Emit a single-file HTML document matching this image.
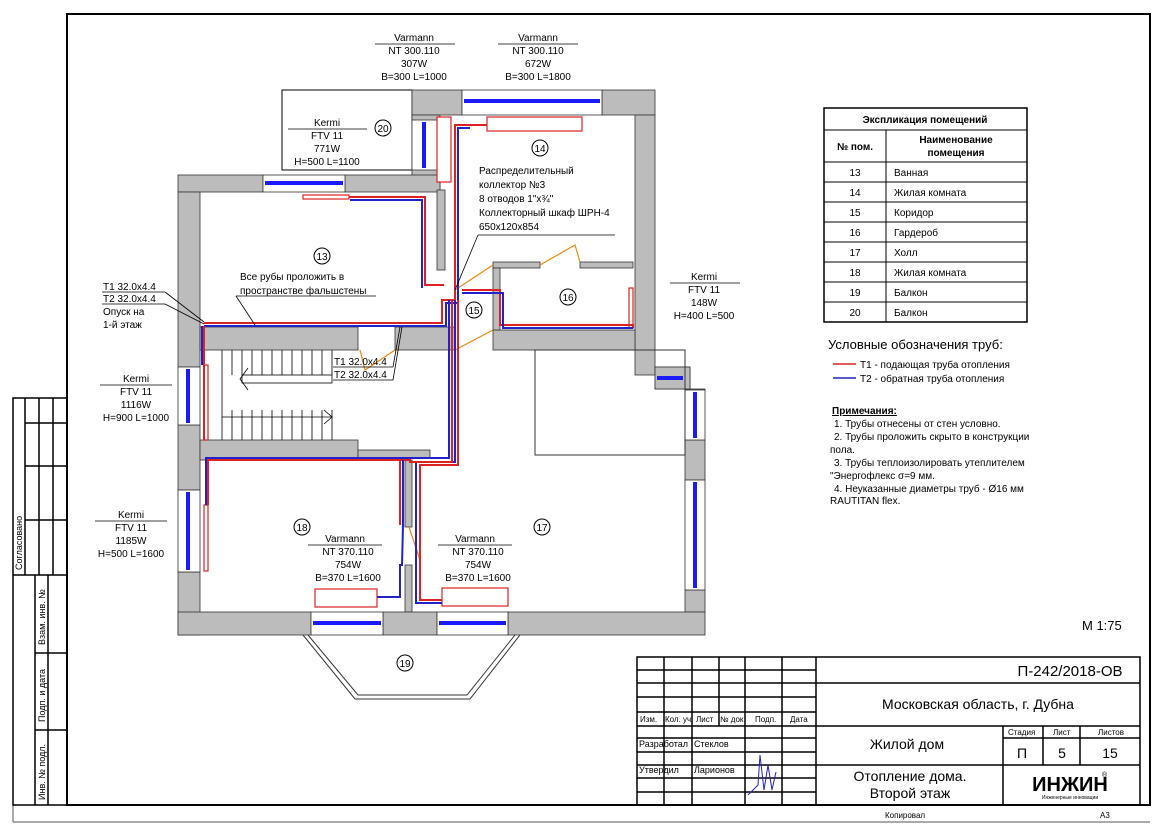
<!DOCTYPE html>
<html><head><meta charset="utf-8"><style>
html,body{margin:0;padding:0;background:#fff}
svg{display:block}
text{font-family:"Liberation Sans","DejaVu Sans",sans-serif;fill:#000}
</style></head><body>
<svg width="1166" height="829" viewBox="0 0 1166 829" xmlns="http://www.w3.org/2000/svg">
<!-- frames -->
<rect x="67" y="14" width="1083" height="791" fill="none" stroke="#000" stroke-width="2"/>
<line x1="13" y1="822" x2="1150" y2="822" stroke="#555" stroke-width="1"/>
<line x1="13" y1="398" x2="13" y2="822" stroke="#555" stroke-width="1"/>
<g stroke="#000" stroke-width="1.5" fill="none">
<rect x="13" y="398" width="54" height="407"/>
<line x1="25" y1="398" x2="25" y2="575"/><line x1="39" y1="398" x2="39" y2="575"/><line x1="53" y1="398" x2="53" y2="575"/>
<line x1="25" y1="423" x2="67" y2="423"/><line x1="25" y1="466" x2="67" y2="466"/><line x1="25" y1="520" x2="67" y2="520"/>
<line x1="13" y1="575" x2="67" y2="575"/>
<line x1="35" y1="575" x2="35" y2="805"/><line x1="48" y1="575" x2="48" y2="805"/>
<line x1="35" y1="653" x2="67" y2="653"/><line x1="35" y1="730" x2="67" y2="730"/>
</g>
<g font-size="9">
<text transform="translate(22,570) rotate(-90)">Согласовано</text>
<text transform="translate(45,645) rotate(-90)">Взам. инв. №</text>
<text transform="translate(45,722) rotate(-90)">Подп. и дата</text>
<text transform="translate(45,800) rotate(-90)">Инв. № подл.</text>
</g>

<!-- balcony 20 -->
<rect x="282" y="90" width="130" height="80" fill="#fff" stroke="#000"/>
<!-- walls -->
<g fill="#bcbcbc" stroke="#333" stroke-width="0.8">
<rect x="412" y="90" width="50" height="25"/>
<rect x="602" y="90" width="53" height="25"/>
<rect x="412" y="115" width="28" height="75"/>
<rect x="635" y="115" width="20" height="260"/>
<rect x="178" y="175" width="85" height="17"/>
<rect x="345" y="175" width="95" height="17"/>
<rect x="178" y="192" width="22" height="175"/>
<rect x="178" y="425" width="22" height="65"/>
<rect x="178" y="572" width="22" height="63"/>
<rect x="437" y="190" width="8" height="80"/>
<rect x="200" y="327" width="158" height="23"/>
<rect x="395" y="327" width="60" height="23"/>
<rect x="493" y="330" width="142" height="20"/>
<rect x="493" y="262" width="47" height="6"/>
<rect x="580" y="262" width="53" height="6"/>
<rect x="493" y="268" width="7" height="62"/>
<rect x="655" y="367" width="35" height="22"/>
<rect x="685" y="389" width="20" height="1"/>
<rect x="685" y="440" width="20" height="40"/>
<rect x="685" y="590" width="20" height="22"/>
<rect x="200" y="440" width="158" height="20"/>
<rect x="358" y="450" width="72" height="8"/>
<rect x="405" y="460" width="7" height="67"/>
<rect x="405" y="565" width="7" height="47"/>
<rect x="178" y="612" width="133" height="23"/>
<rect x="383" y="612" width="54" height="23"/>
<rect x="508" y="612" width="197" height="23"/>
</g>
<!-- windows -->
<g fill="#fff" stroke="#333" stroke-width="0.8">
<rect x="462" y="90" width="140" height="25"/><rect x="263" y="175" width="82" height="17"/>
<rect x="412" y="120" width="28" height="50"/>
<rect x="178" y="367" width="22" height="58"/><rect x="178" y="490" width="22" height="82"/>
<rect x="685" y="390" width="20" height="50"/><rect x="685" y="480" width="20" height="110"/>
<rect x="655" y="367" width="35" height="22" fill="#bcbcbc"/>
<rect x="311" y="612" width="72" height="23"/><rect x="437" y="612" width="71" height="23"/>
</g>
<g stroke="#1a1aff" stroke-width="4">
<line x1="464" y1="101" x2="600" y2="101"/><line x1="265" y1="183" x2="343" y2="183"/>
<line x1="424" y1="122" x2="424" y2="168"/>
<line x1="188" y1="369" x2="188" y2="423"/><line x1="188" y1="492" x2="188" y2="570"/>
<line x1="695" y1="392" x2="695" y2="438"/><line x1="695" y1="482" x2="695" y2="588"/>
<line x1="657" y1="378" x2="683" y2="378"/>
<line x1="313" y1="623" x2="381" y2="623"/><line x1="439" y1="623" x2="506" y2="623"/>
</g>
<!-- inner lines -->
<g stroke="#333" fill="none" stroke-width="1">
<rect x="535" y="350" width="150" height="105"/>
<path d="M303 635 L355 699 L470 699 L520 635"/><path d="M308 635 L358 695 L467 695 L515 635"/>
</g>
<!-- stairs -->
<g stroke="#000" stroke-width="0.8" fill="none">
<line x1="222" y1="350" x2="222" y2="440"/>
<path d="M232 350V375M242 350V375M252 350V375M262 350V375M272 350V375M282 350V375M292 350V375M302 350V375M312 350V375M322 350V375M332 350V375"/>
<path d="M232 410V440M242 410V440M252 410V440M262 410V440M272 410V440M282 410V440M292 410V440M302 410V440M312 410V440M322 410V440M332 410V440"/>
<rect x="242" y="375" width="90" height="8"/>
<line x1="222" y1="417" x2="332" y2="417"/><path d="M324 410 L332 417 L324 424"/>
<path d="M248 368 L240 379 L248 390"/>
</g>
<!-- doors -->
<g stroke="#e88a10" stroke-width="1.2" fill="none">
<path d="M455 290 L493 265"/><path d="M540 265 L575 245 L580 262"/>
<path d="M360 350 L365 370 L395 350"/><path d="M455 350 L493 330"/>
<path d="M409 527 L420 560"/>
</g>
<!-- radiators -->
<g fill="#fff" stroke="#d22" stroke-width="1.2">
<rect x="487" y="117" width="95" height="14"/><rect x="437" y="117" width="14" height="65"/>
<rect x="303" y="195" width="46" height="4"/>
<rect x="204" y="365" width="4" height="75"/><rect x="204" y="505" width="4" height="66"/>
<rect x="629" y="288" width="4" height="40"/>
<rect x="315" y="589" width="62" height="18"/><rect x="442" y="588" width="66" height="18"/>
</g>
<!-- pipes -->
<g fill="none" stroke-width="2">
<path d="M204 323 H442 V300 H455 V125 H487" stroke="#d22"/>
<path d="M204 326 H446 V303 H458 V128 H470" stroke="#22c"/>
<path d="M349 197 H425 V285 H444" stroke="#d22"/>
<path d="M350 200 H422 V288" stroke="#22c"/>
<path d="M204 326 V440" stroke="#d22"/>
<path d="M202 326 V365" stroke="#22c"/>
<path d="M462 290 H500 V325 H633 V328" stroke="#d22"/>
<path d="M462 293 H503 V328 H633" stroke="#22c"/>
<path d="M458 300 V465 H420 V600 H442" stroke="#d22"/>
<path d="M455 300 V462 H416 V603 H442" stroke="#22c"/>
<path d="M452 300 V462 H410 V460 H208 V505" stroke="#d22"/>
<path d="M449 300 V458 H206 V505" stroke="#22c"/>
<path d="M403 460 V525 L402 565 H400 V597 H377" stroke="#22c"/>
<path d="M400 460 V525" stroke="#d22"/>
</g>
<!-- leaders -->
<g stroke="#000" stroke-width="0.8" fill="none">
<line x1="478" y1="235" x2="615" y2="235"/><line x1="478" y1="235" x2="455" y2="290"/>
<line x1="236" y1="296" x2="376" y2="296"/><line x1="236" y1="296" x2="255" y2="325"/>
<line x1="102" y1="292" x2="165" y2="292"/><line x1="102" y1="304" x2="165" y2="304"/>
<line x1="165" y1="292" x2="204" y2="322"/><line x1="165" y1="304" x2="204" y2="324"/>
<line x1="333" y1="367" x2="393" y2="367"/><line x1="333" y1="380" x2="393" y2="380"/>
<line x1="393" y1="367" x2="400" y2="327"/><line x1="393" y1="380" x2="402" y2="327"/>
<line x1="375" y1="44" x2="455" y2="44"/><line x1="498" y1="44" x2="578" y2="44"/>
<line x1="288" y1="129" x2="367" y2="129"/><line x1="670" y1="283" x2="740" y2="283"/>
<line x1="100" y1="385" x2="172" y2="385"/><line x1="95" y1="521" x2="167" y2="521"/>
<line x1="308" y1="545" x2="382" y2="545"/><line x1="438" y1="545" x2="512" y2="545"/>
</g>
<!-- circles -->
<g fill="none" stroke="#000" stroke-width="1">
<circle cx="383" cy="128" r="8"/><circle cx="540" cy="148" r="8"/><circle cx="322" cy="256" r="8"/>
<circle cx="474" cy="310" r="8"/><circle cx="568" cy="297" r="8"/><circle cx="542" cy="527" r="8"/>
<circle cx="302" cy="527" r="8"/><circle cx="405" cy="663" r="8"/>
</g>
<g font-size="10" text-anchor="middle">
<text x="383" y="132">20</text><text x="540" y="152">14</text><text x="322" y="260">13</text>
<text x="474" y="314">15</text><text x="568" y="301">16</text><text x="542" y="531">17</text>
<text x="302" y="531">18</text><text x="405" y="667">19</text>
</g>
<g font-size="10" text-anchor="middle">
<text x="414" y="41">Varmann</text><text x="414" y="54">NT 300.110</text><text x="414" y="67">307W</text><text x="414" y="80">B=300 L=1000</text>
<text x="538" y="41">Varmann</text><text x="538" y="54">NT 300.110</text><text x="538" y="67">672W</text><text x="538" y="80">B=300 L=1800</text>
<text x="327" y="126">Kermi</text><text x="327" y="139">FTV 11</text><text x="327" y="152">771W</text><text x="327" y="165">H=500 L=1100</text>
<text x="704" y="280">Kermi</text><text x="704" y="293">FTV 11</text><text x="704" y="306">148W</text><text x="704" y="319">H=400 L=500</text>
<text x="136" y="382">Kermi</text><text x="136" y="395">FTV 11</text><text x="136" y="408">1116W</text><text x="136" y="421">H=900 L=1000</text>
<text x="131" y="518">Kermi</text><text x="131" y="531">FTV 11</text><text x="131" y="544">1185W</text><text x="131" y="557">H=500 L=1600</text>
<text x="345" y="542">Varmann</text><text x="348" y="555">NT 370.110</text><text x="348" y="568">754W</text><text x="348" y="581">B=370 L=1600</text>
<text x="475" y="542">Varmann</text><text x="478" y="555">NT 370.110</text><text x="478" y="568">754W</text><text x="478" y="581">B=370 L=1600</text>
</g>
<g font-size="10">
<text x="479" y="174">Распределительный</text><text x="479" y="188">коллектор №3</text><text x="479" y="202">8 отводов 1"x¾"</text>
<text x="479" y="216">Коллекторный шкаф ШРН-4</text><text x="479" y="230">650x120x854</text>
<text x="240" y="280">Все рубы проложить в</text><text x="240" y="294">пространстве фальшстены</text>
<text x="103" y="290">T1 32.0x4.4</text><text x="103" y="302">T2 32.0x4.4</text><text x="103" y="315">Опуск на</text><text x="103" y="328">1-й этаж</text>
<text x="334" y="365">T1 32.0x4.4</text><text x="334" y="378">T2 32.0x4.4</text>
</g>
<!-- table -->
<g stroke="#000" stroke-width="1" fill="none">
<rect x="824" y="108" width="203" height="214" stroke-width="1.5"/>
<line x1="824" y1="130" x2="1027" y2="130"/><line x1="824" y1="162" x2="1027" y2="162"/>
<line x1="886" y1="130" x2="886" y2="322"/>
<path d="M824 182H1027M824 202H1027M824 222H1027M824 242H1027M824 262H1027M824 282H1027M824 302H1027"/>
</g>
<g font-size="10">
<text x="925" y="123" text-anchor="middle" font-weight="bold">Экспликация помещений</text>
<text x="855" y="150" text-anchor="middle" font-weight="bold">№ пом.</text>
<text x="956" y="143" text-anchor="middle" font-weight="bold">Наименование</text>
<text x="956" y="156" text-anchor="middle" font-weight="bold">помещения</text>
<g text-anchor="middle"><text x="855" y="176">13</text><text x="855" y="196">14</text><text x="855" y="216">15</text><text x="855" y="236">16</text><text x="855" y="256">17</text><text x="855" y="276">18</text><text x="855" y="296">19</text><text x="855" y="316">20</text></g>
<text x="894" y="176">Ванная</text><text x="894" y="196">Жилая комната</text><text x="894" y="216">Коридор</text><text x="894" y="236">Гардероб</text><text x="894" y="256">Холл</text><text x="894" y="276">Жилая комната</text><text x="894" y="296">Балкон</text><text x="894" y="316">Балкон</text>
</g>
<text x="828" y="349" font-size="13">Условные обозначения  труб:</text>
<line x1="833" y1="364" x2="856" y2="364" stroke="#d22" stroke-width="1.5"/>
<line x1="833" y1="378" x2="856" y2="378" stroke="#22c" stroke-width="1.5"/>
<text x="860" y="368" font-size="10">T1 - подающая труба отопления</text>
<text x="860" y="382" font-size="10">T2 - обратная труба отопления</text>
<g font-size="10">
<text x="832" y="414" font-weight="bold" text-decoration="underline">Примечания:</text>
<text x="834" y="427">1.    Трубы отнесены от стен условно.</text>
<text x="834" y="440">2.    Трубы проложить скрыто в конструкции</text>
<text x="830" y="453">пола.</text>
<text x="834" y="466">3.    Трубы теплоизолировать утеплителем</text>
<text x="830" y="479">"Энергофлекс σ=9 мм.</text>
<text x="834" y="492">4.    Неуказанные диаметры труб - Ø16 мм</text>
<text x="830" y="504">RAUTITAN flex.</text>
</g>
<text x="1082" y="630" font-size="13">M 1:75</text>
<!-- title block -->
<g stroke="#000" stroke-width="1.5" fill="none">
<rect x="637" y="657" width="503" height="148"/>
<path d="M664 657V805M692 657V726M719 657V726M745 657V805M782 657V805M816 657V805"/>
<path d="M692 726V805"/>
<path d="M637 670H816M637 683H816M637 697H816M637 712H816M637 726H1140M637 738H816M637 752H816M637 765H1140M637 778H816M637 792H816"/>
<path d="M816 683H1140M1003 726V765M1043 726V765M1080 726V765M1003 738H1140M1003 765V805"/>
</g>
<g font-size="8">
<text x="640" y="722">Изм.</text><text x="665" y="722">Кол. уч.</text><text x="696" y="722">Лист</text><text x="720" y="722">№ док.</text><text x="755" y="722">Подп.</text><text x="790" y="722">Дата</text>
<text x="1008" y="735">Стадия</text><text x="1053" y="735">Лист</text><text x="1098" y="735">Листов</text>
<text x="885" y="818">Копировал</text><text x="1100" y="818">А3</text>
</g>
<g font-size="9">
<text x="639" y="747">Разработал</text><text x="694" y="747">Стеклов</text>
<text x="639" y="773">Утвердил</text><text x="694" y="773">Ларионов</text>
</g>
<path d="M748 795 L758 785 L760 755 L764 790 L768 765 L772 790 L776 772" stroke="#22c" fill="none" stroke-width="1"/>
<g font-size="14" text-anchor="middle">
<text x="1070" y="676" font-size="15">П-242/2018-ОВ</text>
<text x="978" y="709">Московская область, г. Дубна</text>
<text x="907" y="749">Жилой дом</text>
<text x="910" y="781">Отопление дома.</text>
<text x="910" y="798">Второй этаж</text>
<text x="1022" y="758">П</text><text x="1062" y="758">5</text><text x="1110" y="758">15</text>
</g>
<text x="1070" y="791" font-size="20" font-weight="bold" text-anchor="middle" fill="#111">ИНЖИН</text>
<text x="1102" y="777" font-size="7">®</text>
<text x="1070" y="799" font-size="5" text-anchor="middle" fill="#2a2">Инженерные инновации</text>
</svg>
</body></html>
